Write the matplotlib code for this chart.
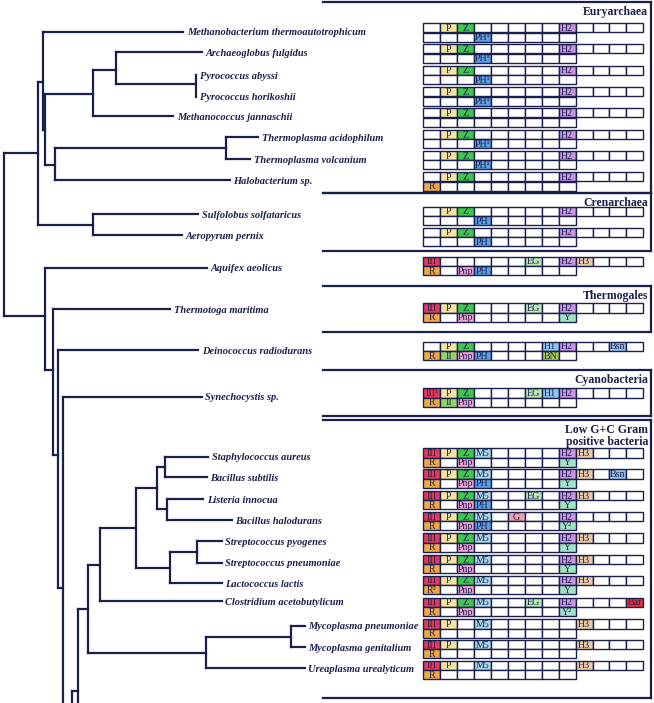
import matplotlib
matplotlib.use("Agg")
import matplotlib.pyplot as plt
from matplotlib.patches import Rectangle

# --- tree: internal nodes (name, parent, x of vertical, y of node) ---
node_names  = ["root", "archaea", "eury", "eury2", "C", "D", "pyro", "E", "tp", "cren",
               "bact", "F", "G", "H", "I", "J", "K", "L", "M", "N", "O", "Pn", "Q", "R", "S", "T"]
node_parent = [None, "root", "archaea", "eury", "eury2", "C", "D", "eury2", "E", "archaea",
               "root", "bact", "F", "G", "H", "I", "J", "K", "L", "M", "N", "N", "M", "Q", "K", "S"]
node_x = [4, 37.7, 43.3, 45, 92.7, 116, 196, 55, 226, 92.7,
          45, 53.3, 57.5, 62.5, 72, 78.3, 88.3, 100, 135.7, 157.3, 165, 166.7, 170, 197.3, 205.7, 291]
node_y = [234, 152.7, 81.7, 130, 94.3, 70, 84.3, 165, 147.7, 225,
          315.7, 370, 455, 588.3, 780, 691, 609.3, 565, 528.3, 488.3, 466.7, 509, 567.7, 551.7, 652.7, 636.7]

# --- leaves ---
species = ["Methanobacterium thermoautotrophicum", "Archaeoglobus fulgidus", "Pyrococcus abyssi",
           "Pyrococcus horikoshii", "Methanococcus jannaschii", "Thermoplasma acidophilum",
           "Thermoplasma volcanium", "Halobacterium sp.", "Sulfolobus solfataricus", "Aeropyrum pernix",
           "Aquifex aeolicus", "Thermotoga maritima", "Deinococcus radiodurans", "Synechocystis sp.",
           "Staphylococcus aureus", "Bacillus subtilis", "Listeria innocua", "Bacillus halodurans",
           "Streptococcus pyogenes", "Streptococcus pneumoniae", "Lactococcus lactis",
           "Clostridium acetobutylicum", "Mycoplasma pneumoniae", "Mycoplasma genitalium",
           "Ureaplasma urealyticum"]
leaf_parent = ["eury", "D", "pyro", "pyro", "C", "tp", "tp", "E", "cren", "cren",
               "bact", "F", "G", "H", "O", "O", "Pn", "Pn", "R", "R", "Q", "L", "T", "T", "S"]
leaf_x = [183.3, 201.7, 196, 196, 173.3, 258.3, 250, 230, 198.3, 181.7,
          206.7, 170, 198.3, 201.7, 208.3, 206.7, 203.3, 231.7, 221.7, 221.7, 221.7, 221.7, 305, 305, 305]
leaf_y = [31.7, 52.3, 75, 96.7, 116, 137.3, 159, 180, 214.3, 235,
          267.7, 309, 350, 396.7, 456.7, 477.3, 499, 520, 541, 562.7, 583.3, 601, 625.7, 647.3, 668.3]
# branches continuing below the figure edge
stub_parent = ["I", "J"]
stub_y = [900, 800]

# --- gene boxes: 13 cells on the top row, 9 on the bottom row ---
grid_top = [23.3, 44.3, 65.7, 87.3, 108.3, 130, 151, 172.3, 206.7, 227.7,
            256.7, 303.3, 341.7, 388.3, 448.3, 469.3, 491, 512, 533.3, 555, 575.7, 597.7, 619.3, 640, 660.7]
top_rows = [
    ",P,Z,,,,,,H2,,,,", ",P,Z,,,,,,H2,,,,", ",P,Z,,,,,,H2,,,,", ",P,Z,,,,,,H2,,,,",
    ",P,Z,,,,,,H2,,,,", ",P,Z,,,,,,H2,,,,", ",P,Z,,,,,,H2,,,,", ",P,Z,,,,,,H2,,,,",
    ",P,Z,,,,,,H2,,,,", ",P,Z,,,,,,H2,,,,",
    "III,,,,,,EG,,H2,H3,,,", "III,P,Z,,,,EG,,H2,,,,", ",P,Z,,,,,H1,H2,,,Bsn,",
    "III¹,P,Z,,,,EG,H1,H2,,,,",
    "III,P,Z,M5,,,,,H2,H3,,,", "III,P,Z,M5,,,,,H2,H3,,Bsn,", "III,P,Z,M5,,,EG,,H2,H3,,,",
    "III,P,Z,M5,,G,,,H2,,,,", "III,P,Z,M5,,,,,H2,H3,,,", "III,P,Z,M5,,,,,H2,H3,,,",
    "III,P,Z,M5,,,,,H2,H3,,,", "III,P,Z,M5,,,EG,,H2,,,,Bar",
    "III,P,,M5,,,,,,H3,,,", "III,P,,M5,,,,,,H3,,,", "III,P,,M5,,,,,,H3,,,"]
bottom_rows = [
    ",,,PH¹,,,,,", ",,,PH¹,,,,,", ",,,PH¹,,,,,", ",,,PH¹,,,,,",
    ",,,,,,,,", ",,,PH¹,,,,,", ",,,PH¹,,,,,", "R,,,,,,,,",
    ",,,PH,,,,,", ",,,PH,,,,,",
    "R,,Pnp,PH,,,,,", "R,,Pnp,,,,,,Y", "R,II,Pnp,PH,,,,BN,", "R,II,Pnp,,,,,,",
    "R,,Pnp,,,,,,Y", "R,,Pnp,PH,,,,,Y", "R,,Pnp,PH,,,,,Y", "R,,Pnp,PH,,,,,Y²",
    "R,,Pnp,,,,,,Y", "R,,Pnp,,,,,,Y", "R²,,Pnp,,,,,,Y", "R,,Pnp,,,,,,Y²",
    "R,,,,,,,,", "R,,,,,,,,", "R,,,,,,,,"]
gene_colors = {"III": "#e6395a", "R": "#f0a845", "P": "#f6e59c", "Z": "#3fc84a", "PH": "#5c9fe4",
               "Pnp": "#f3a5d8", "M5": "#a9dcea", "II": "#92d46c", "EG": "#b8eab4", "H1": "#8ec5f0",
               "H2": "#c995e4", "H3": "#ebcaa2", "Y": "#a2e2c4", "BN": "#a8cf48", "Bsn": "#92c2ea",
               "G": "#f2a2ac", "Bar": "#e5303d"}

# --- group frames ---
group_titles = ["Euryarchaea", "Crenarchaea", "Thermogales", "Cyanobacteria",
                "Low G+C Gram\npositive bacteria"]
group_top = [2, 193, 286, 370, 420]
group_bottom = [193, 251, 332, 416, 698]

NAVY = "#1b1f4b"
SERIF = "Liberation Serif"

fig = plt.figure(figsize=(6.54, 7.03), dpi=100)
ax = fig.add_axes([0, 0, 1, 1])
ax.set_xlim(0, 654)
ax.set_ylim(703, 0)
ax.axis("off")

# tree
pos = {n: (x, y) for n, x, y in zip(node_names, node_x, node_y)}
children = {n: [] for n in node_names}
for n, p in zip(node_names, node_parent):
    if p is not None:
        children[p].append(pos[n][1])
for p, y in zip(leaf_parent, leaf_y):
    children[p].append(y)
for p, y in zip(stub_parent, stub_y):
    children[p].append(y)

lw_tree = 1.6
for n, p in zip(node_names, node_parent):
    if p is not None:
        ax.plot([pos[p][0], pos[n][0]], [pos[n][1]] * 2, color=NAVY, lw=lw_tree, solid_capstyle="projecting")
for n in node_names:
    ys = children[n]
    ax.plot([pos[n][0]] * 2, [min(ys), max(ys)], color=NAVY, lw=lw_tree, solid_capstyle="projecting")
for p, y in zip(stub_parent, stub_y):
    ax.plot([pos[p][0], pos[p][0] + 30], [y, y], color=NAVY, lw=lw_tree)
for name, p, x, y in zip(species, leaf_parent, leaf_x, leaf_y):
    if x > pos[p][0]:
        ax.plot([pos[p][0], x], [y, y], color=NAVY, lw=lw_tree, solid_capstyle="projecting")
    ax.text(x + 3.5, y + 1.2, name, family=SERIF, style="italic", weight="bold",
            fontsize=7.5, color=NAVY, ha="left", va="center")

# gene boxes
x0, cw, rh = 423.3, 16.92, 9.2
for top, trow, brow in zip(grid_top, top_rows, bottom_rows):
    for r, row in enumerate([trow, brow]):
        for j, lab in enumerate(row.split(",")):
            key = lab.rstrip("¹²")
            fc = gene_colors.get(key, "white")
            ax.add_patch(Rectangle((x0 + j * cw, top + r * rh), cw, rh, facecolor=fc,
                                   edgecolor=NAVY, lw=1.0))
            if lab:
                ax.text(x0 + j * cw + cw / 2, top + r * rh + rh / 2 + 0.6, lab, family=SERIF,
                        fontsize=7.2, color=NAVY, ha="center", va="center")

# group frames
lw_box = 1.6
for title, t, b in zip(group_titles, group_top, group_bottom):
    ax.plot([323, 651], [t, t], color=NAVY, lw=lw_box)
    ax.plot([323, 651], [b, b], color=NAVY, lw=lw_box)
    ax.plot([651, 651], [t, b], color=NAVY, lw=lw_box)
    ax.text(648, t + 4, title, family=SERIF, weight="bold", fontsize=8.5, color=NAVY,
            ha="right", va="top", linespacing=0.95)

fig.savefig("out.png", dpi=100)
